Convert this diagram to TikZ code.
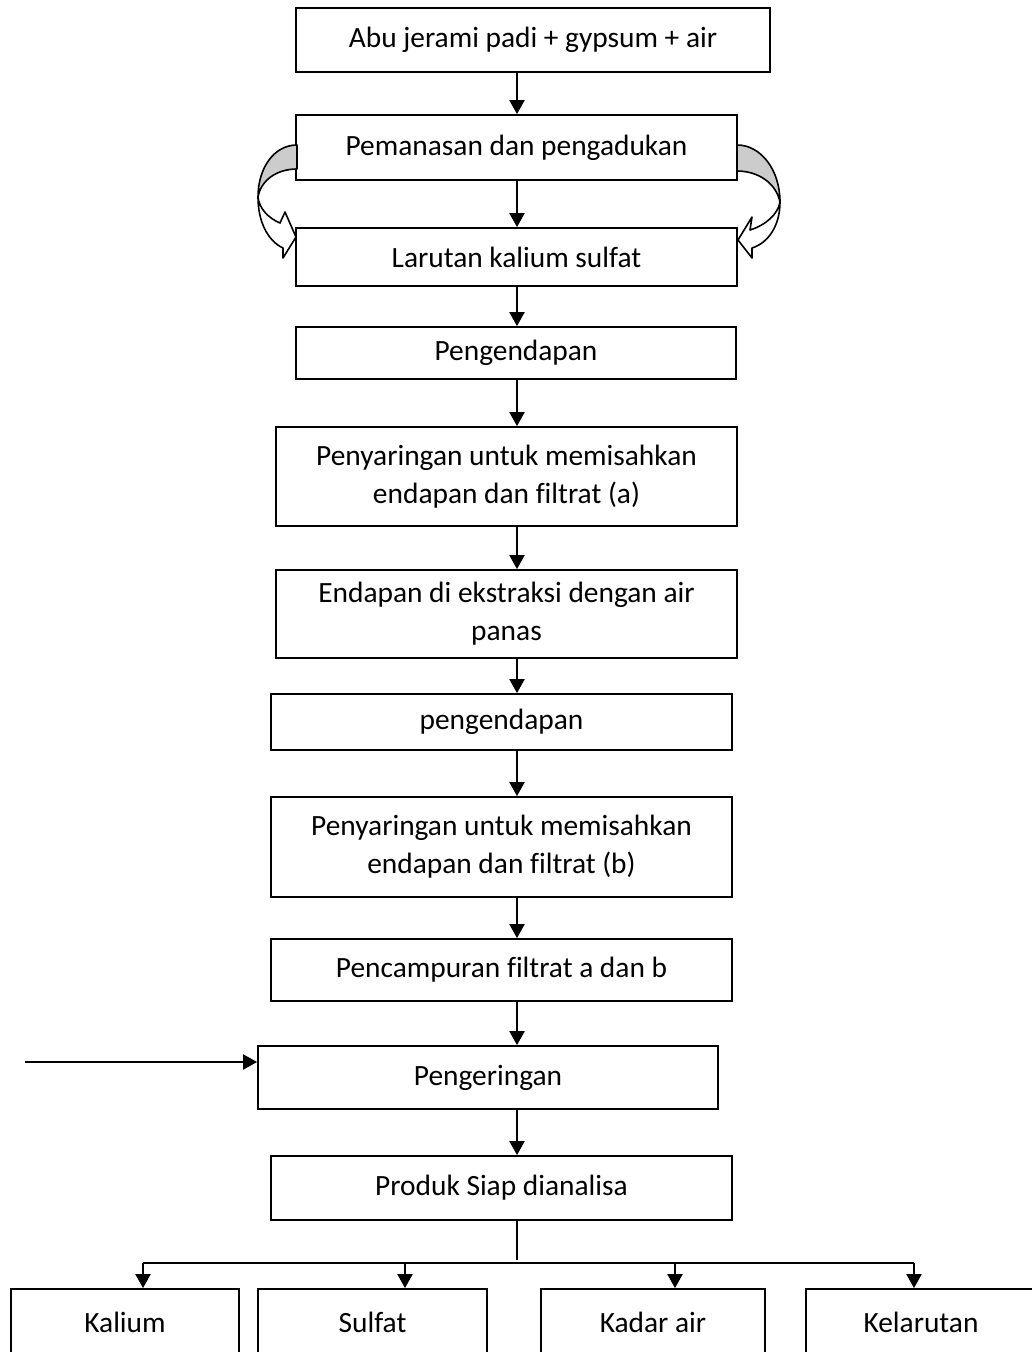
\documentclass[tikz,border=0pt]{standalone}
\usepackage{fontspec}
\setmainfont{Carlito}[Ligatures=NoCommon]
\usetikzlibrary{arrows.meta}
\definecolor{ink}{HTML}{000000}
\definecolor{shade}{HTML}{CCCCCC}

\begin{document}
\begin{tikzpicture}[
  x=1pt,
  y=-1pt,
  stepbox/.style={
    draw=ink,line width=1.8pt,inner sep=0pt,align=center,text=ink,
    font=\fontsize{29.4}{38}\selectfont
  },
  wide/.style={stepbox,minimum width=461pt},
  testbox/.style={stepbox,minimum height=66pt},
  flow/.style={
    -{Triangle[length=14pt,width=15pt]},line width=2.2pt,draw=ink
  },
  link/.style={line width=2.2pt,draw=ink},
  band/.style={draw=ink,line width=1.6pt,line join=round}
]
  \clip (0,0) rectangle (1032,1352);
  \coordinate (spine) at (517,0);

  % main column
  \node[stepbox,minimum width=474pt,minimum height=64pt] (abu) at (533,40)
    {Abu jerami padi + gypsum + air};
  \node[stepbox,minimum width=441pt,minimum height=65pt] (panas) at (516.5,147.5)
    {Pemanasan dan pengadukan};
  \node[stepbox,minimum width=441pt,minimum height=58pt] (larutan) at (516.5,257)
    {Larutan kalium sulfat};
  \node[stepbox,minimum width=440pt,minimum height=52pt] (endap-a) at (516,353)
    {Pengendapan};
  \node[wide,minimum height=99pt] (saring-a) at (506.5,476.5)
    {Penyaringan untuk memisahkan\\endapan dan filtrat (a)};
  \node[wide,minimum height=88pt] (ekstrak) at (506.5,614)
    {Endapan di ekstraksi dengan air\\panas};
  \node[wide,minimum height=56pt] (endap-b) at (501.5,722)
    {pengendapan};
  \node[wide,minimum height=100pt] (saring-b) at (501.5,847)
    {Penyaringan untuk memisahkan\\endapan dan filtrat (b)};
  \node[wide,minimum height=62pt] (campur) at (501.5,970)
    {Pencampuran filtrat a dan b};
  \node[stepbox,minimum width=460pt,minimum height=63pt] (kering) at (488,1077.5)
    {Pengeringan};
  \node[wide,minimum height=64pt] (produk) at (501.5,1188)
    {Produk Siap dianalisa};

  % analyses
  \node[testbox,minimum width=228pt] (kalium) at (125,1322) {Kalium};
  \node[testbox,minimum width=229pt] (sulfat) at (372.5,1322) {Sulfat};
  \node[testbox,minimum width=224pt] (kadar) at (653,1322) {Kadar air};
  \node[testbox,minimum width=230pt] (larut) at (921,1322) {Kelarutan};

  \draw[flow] (abu.south -| spine) -- (panas.north -| spine);
  \draw[flow] (panas.south -| spine) -- (larutan.north -| spine);
  \draw[flow] (larutan.south -| spine) -- (endap-a.north -| spine);
  \draw[flow] (endap-a.south -| spine) -- (saring-a.north -| spine);
  \draw[flow] (saring-a.south -| spine) -- (ekstrak.north -| spine);
  \draw[flow] (ekstrak.south -| spine) -- (endap-b.north -| spine);
  \draw[flow] (endap-b.south -| spine) -- (saring-b.north -| spine);
  \draw[flow] (saring-b.south -| spine) -- (campur.north -| spine);
  \draw[flow] (campur.south -| spine) -- (kering.north -| spine);
  \draw[flow] (kering.south -| spine) -- (produk.north -| spine);

  \coordinate (feed) at (25,1062);
  \draw[flow] (feed) -- (feed -| kering.west);

  % split to the analyses
  \coordinate (bus) at (517,1263);
  \coordinate (drop-k) at (143,1263);
  \coordinate (drop-s) at (405,1263);
  \coordinate (drop-a) at (675,1263);
  \coordinate (drop-l) at (914,1263);
  \draw[link] (produk.south -| spine) -- ([yshift=3pt]bus);
  \draw[link] (drop-k) -- (drop-l);
  \draw[flow] (drop-k) -- (drop-k |- kalium.north);
  \draw[flow] (drop-s) -- (drop-s |- sulfat.north);
  \draw[flow] (drop-a) -- (drop-a |- kadar.north);
  \draw[flow] (drop-l) -- (drop-l |- larut.north);

  % curved arrows beside the heating step
  \path[band,fill=shade] (297,145) .. controls (274,145) and (258,168) .. (258,197)
    .. controls (261,180) and (277,169) .. (297,169) -- cycle;
  \path[band,fill=white] (258,197) .. controls (258,222) and (268,241) .. (283,248)
    -- (283,258) -- (296,237) -- (285,212) -- (280,223)
    .. controls (268,218) and (259,208) .. cycle;
  \path[band,fill=shade] (737,145) .. controls (761,145) and (780,170) .. (780,202)
    .. controls (776,183) and (758,171) .. (737,171) -- cycle;
  \path[band,fill=white] (780,202) .. controls (780,226) and (768,243) .. (752,248)
    -- (752,258) -- (738,240) -- (752,217) -- (750,230)
    .. controls (766,225) and (778,214) .. cycle;
\end{tikzpicture}
\end{document}
